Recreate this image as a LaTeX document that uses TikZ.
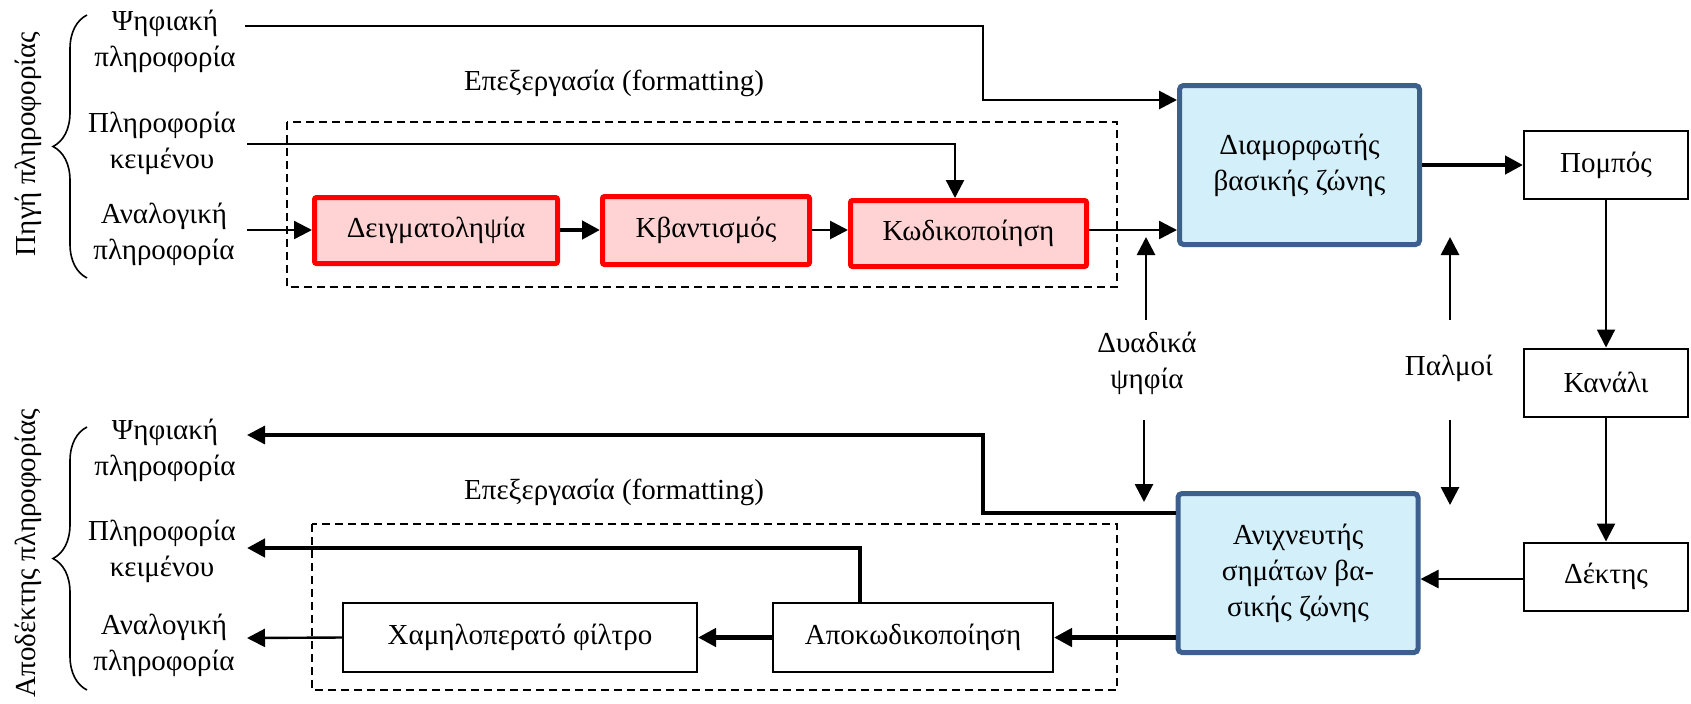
\documentclass[tikz,border=0pt]{standalone}
\usepackage{fontspec}
\setmainfont{Liberation Serif}
\usetikzlibrary{arrows.meta,decorations.pathreplacing}
\definecolor{redfill}{HTML}{FFD3D3}
\definecolor{redline}{HTML}{FF0000}
\definecolor{bluefill}{HTML}{D3EFFA}
\definecolor{blueline}{HTML}{3C5F8E}
\begin{document}
\begin{tikzpicture}[x=0.5pt,y=-0.5pt,
  font=\fontsize{14.5}{18}\selectfont,
  >={Triangle[length=9pt,width=9pt]},
  redbox/.style={draw=redline,fill=redfill,line width=2.5pt,rounded corners=1pt,align=center,inner sep=0pt},
  bluebox/.style={draw=blueline,fill=bluefill,line width=2.5pt,rounded corners=2pt,align=center,inner sep=0pt},
  plainbox/.style={draw,line width=1pt,align=center,inner sep=0pt},
  conn/.style={line width=1.2pt,->},
  thickconn/.style={line width=2.2pt,->},
  lbl/.style={align=center,inner sep=0pt},
  dashbox/.style={draw,dash pattern=on 4pt off 2.5pt,line width=1pt},
  bracestyle/.style={line width=0.8pt,decorate,decoration={brace,amplitude=17pt}}
]
\useasboundingbox (0,0) rectangle (1691,703);

% dashed processing boxes
\draw[dashbox] (287,122) rectangle (1117,287);
\draw[dashbox] (312,524) rectangle (1117,690);

% side titles and braces
\node[rotate=90,inner sep=0pt] (srcT) at (28,144) {Πηγή πληροφορίας};
\node[rotate=90,inner sep=0pt] (dstT) at (28,553) {Αποδέκτης πληροφορίας};
\draw[bracestyle] (87,278) -- (87,15);
\draw[bracestyle] (87,690) -- (87,427);

% source labels
\node[lbl] (inD) at (165,41.5) {Ψηφιακή\\πληροφορία};
\node[lbl] (inT) at (162,143.5) {Πληροφορία\\κειμένου};
\node[lbl] (inA) at (164,234.5) {Αναλογική\\πληροφορία};
% sink labels
\node[lbl] (outD) at (165,450) {Ψηφιακή\\πληροφορία};
\node[lbl] (outT) at (162,551.5) {Πληροφορία\\κειμένου};
\node[lbl] (outA) at (164,645) {Αναλογική\\πληροφορία};

\node[lbl] (fmt1) at (614,83) {Επεξεργασία (formatting)};
\node[lbl] (fmt2) at (614,492) {Επεξεργασία (formatting)};

% blocks
\node[redbox,minimum width=121.5pt,minimum height=33pt] (deig) at (436,230.5) {Δειγματοληψία};
\node[redbox,minimum width=103.5pt,minimum height=34pt] (kvan) at (706,230.5) {Κβαντισμός};
\node[redbox,minimum width=118pt,minimum height=33pt] (kod) at (968.5,233.5) {Κωδικοποίηση};
\node[bluebox,minimum width=120pt,minimum height=79.5pt] (diam) at (1299.5,165) {Διαμορφωτής\\βασικής ζώνης};
\node[plainbox,minimum width=82pt,minimum height=34pt] (pomp) at (1606,165) {Πομπός};
\node[plainbox,minimum width=82pt,minimum height=34pt] (kan) at (1606,382.5) {Κανάλι};
\node[plainbox,minimum width=82pt,minimum height=34pt] (dekt) at (1606,576.5) {Δέκτης};
\node[bluebox,minimum width=120pt,minimum height=79.5pt] (anix) at (1298,573) {Ανιχνευτής\\σημάτων βα-\\σικής ζώνης};
\node[plainbox,minimum width=177pt,minimum height=34.5pt] (xam) at (520,637.5) {Χαμηλοπερατό φίλτρο};
\node[plainbox,minimum width=140pt,minimum height=34.5pt] (apok) at (913,637.5) {Αποκωδικοποίηση};

\node[lbl] (dyad) at (1147,363) {Δυαδικά\\ψηφία};
\node[lbl] (palm) at (1449,368) {Παλμοί};

% free ends
\coordinate (inDo) at (245,26);
\coordinate (inTo) at (247,144);
\coordinate (inAo) at (247,230);
\coordinate (outDi) at (247,435);
\coordinate (outTi) at (247,548);
\coordinate (outAi) at (247,638);
\coordinate (dyUpS) at (1146,320);
\coordinate (dyUpE) at (1146,237);
\coordinate (paUpS) at (1450,320);
\coordinate (paUpE) at (1450,237);
\coordinate (dyDnS) at (1144,420);
\coordinate (dyDnE) at (1144,502);
\coordinate (paDnS) at (1450,420);
\coordinate (paDnE) at (1450,505);

% transmitter side
\draw[conn,line width=1.4pt] (inDo) -- (983,26) -- (983,100) -- (diam.west |- 0,100);
\draw[conn] (inTo) -- (955,144) -- (kod.north -| 955,0);
\draw[conn] (inAo) -- (inAo -| deig.west);
\draw[thickconn] (deig.east |- 0,230) -- (kvan.west |- 0,230);
\draw[conn,line width=1.4pt] (kvan.east |- 0,230) -- (kod.west |- 0,230);
\draw[conn] (kod.east |- 0,230) -- (diam.west |- 0,230);
\draw[conn,line width=1.4pt] (dyUpS) -- (dyUpE);
\draw[conn,line width=1.4pt] (paUpS) -- (paUpE);
\draw[thickconn] (diam.east) -- (pomp.west);
\draw[conn,line width=1pt] (pomp.south) -- (kan.north);
\draw[conn,line width=1.2pt] (kan.south) -- (dekt.north);

% receiver side
\draw[conn] (dekt.west |- 0,579) -- (anix.east |- 0,579);
\draw[conn,line width=1.4pt] (dyDnS) -- (dyDnE);
\draw[conn,line width=1.4pt] (paDnS) -- (paDnE);
\draw[conn,line width=1.6pt] (anix.west |- 0,513) -- (983,513) -- (983,435) -- (outDi);
\draw[thickconn] (apok.north -| 860,0) -- (860,548) -- (outTi);
\draw[thickconn] (anix.west |- 0,637.5) -- (apok.east);
\draw[thickconn] (apok.west) -- (xam.east);
\draw[conn] (xam.west) -- (outAi);
\end{tikzpicture}
\end{document}
